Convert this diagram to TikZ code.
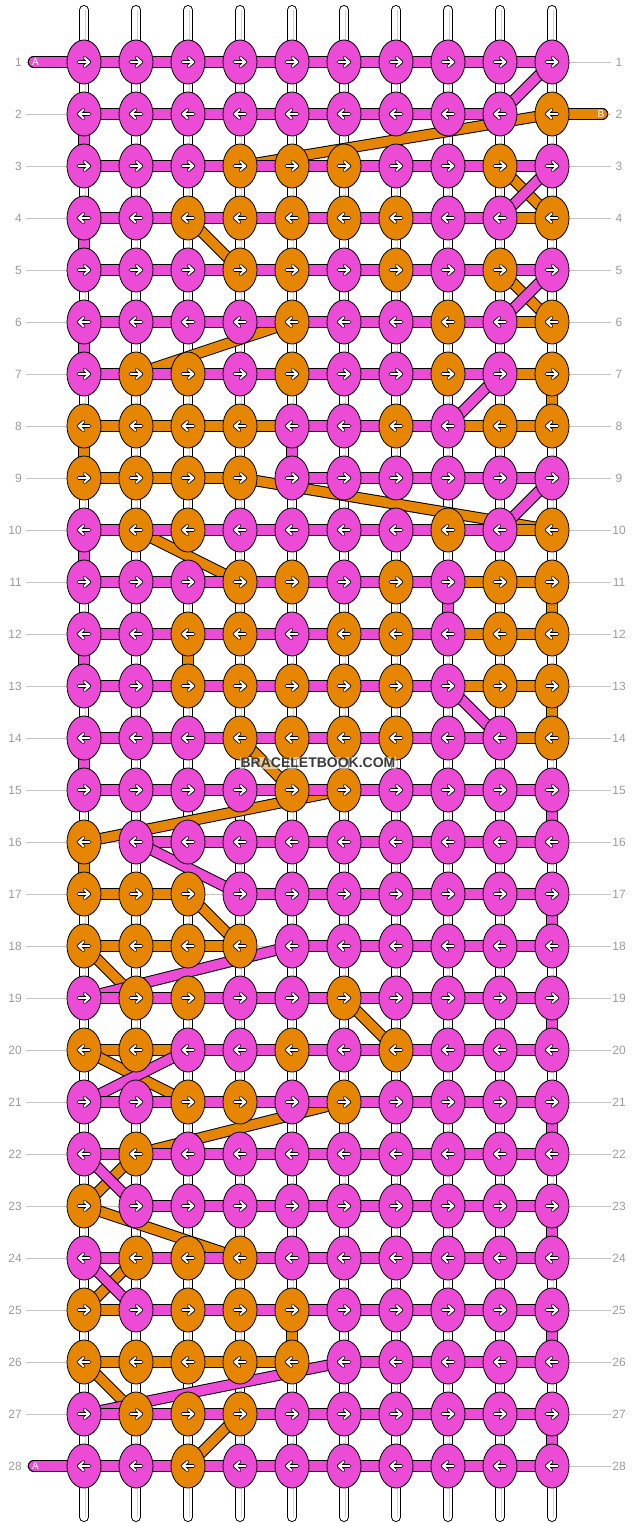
\documentclass[tikz,border=0pt]{standalone}
\usepackage{fontspec}
\setmainfont{Liberation Sans}
\usetikzlibrary{shapes.geometric}
\definecolor{cP}{HTML}{EC4BD6}
\definecolor{cO}{HTML}{E68600}
\definecolor{lblgray}{HTML}{9A9A9A}
\definecolor{linegray}{HTML}{C4C4C4}
\definecolor{wmgray}{HTML}{3A3A3A}
\pgfdeclarelayer{gl}
\pgfdeclarelayer{ws}
\pgfdeclarelayer{lb}
\pgfdeclarelayer{la}
\pgfsetlayers{gl,ws,lb,la,main}
\tikzset{
  knot/.style={ellipse, draw=black, line width=0.8pt, minimum width=34pt, minimum height=44pt, inner sep=0pt},
  bandout/.style={line width=11.5pt, black},
  bandin/.style={line width=9.5pt},
  arrowout/.style={line width=3.6pt, black, line cap=round, line join=round},
  arrowin/.style={line width=1.9pt, white, line cap=round, line join=round},
  lbl/.style={text=lblgray, font=\fontsize{12}{14}\selectfont, inner sep=0pt},
  gline/.style={draw=linegray, line width=0.9pt},
  taillbl/.style={text=white, font=\fontsize{10}{12}\selectfont, inner sep=0pt},
}
\newcommand\strseg[3]{%
  \draw[bandout] (#2.center) -- (#3.center);
  \draw[bandin, #1] (#2.center) -- (#3.center);
}
\begin{document}
\begin{tikzpicture}[x=1pt,y=-1pt]
\useasboundingbox (0,0) rectangle (636,1528);
% white vertical strings
\begin{pgfonlayer}{ws}
\foreach \c in {1,...,10} {
  \pgfmathsetmacro\xx{84+52*(\c-1)}
  \coordinate (st\c) at (\xx,10);
  \coordinate (sb\c) at (\xx,1517);
  \draw[line width=10pt, black, line cap=round] (st\c) -- (sb\c);
  \draw[line width=8pt, white, line cap=round] (st\c) -- (sb\c);
  \draw[line width=0.8pt, black!18] ([xshift=1.5pt]st\c) -- ([xshift=1.5pt]sb\c);
}
\end{pgfonlayer}
% knots, arrows, labels
\foreach \r/\row in {
1/{P,P,P,P,P,P,P,P,P,P},
2/{P,P,P,P,P,P,P,P,P,O},
3/{P,P,P,O,O,O,P,P,O,P},
4/{P,P,O,O,O,O,O,P,P,O},
5/{P,P,P,O,O,P,O,P,O,P},
6/{P,P,P,P,O,P,P,O,P,O},
7/{P,O,O,P,O,P,P,O,P,O},
8/{O,O,O,O,P,P,O,P,O,O},
9/{O,O,O,O,P,P,P,P,P,P},
10/{P,O,O,P,P,P,P,O,P,O},
11/{P,P,P,O,O,P,O,P,O,O},
12/{P,P,O,O,P,O,O,P,O,O},
13/{P,P,O,O,O,O,O,P,O,O},
14/{P,P,P,O,O,O,O,P,P,O},
15/{P,P,P,P,O,O,P,P,P,P},
16/{O,P,P,P,P,P,P,P,P,P},
17/{O,O,O,P,P,P,P,P,P,P},
18/{O,O,O,O,P,P,P,P,P,P},
19/{P,O,O,P,P,O,P,P,P,P},
20/{O,O,P,P,O,P,O,P,P,P},
21/{P,P,O,O,P,O,P,P,P,P},
22/{P,O,P,P,P,P,P,P,P,P},
23/{O,P,P,P,P,P,P,P,P,P},
24/{P,O,O,O,P,P,P,P,P,P},
25/{O,P,O,O,O,P,P,P,P,P},
26/{O,O,O,O,O,P,P,P,P,P},
27/{P,O,O,O,P,P,P,P,P,P},
28/{P,P,O,P,P,P,P,P,P,P}} {
  \pgfmathsetmacro\yy{62+52*(\r-1)}
  \pgfmathsetmacro\dir{ifthenelse(mod(\r,2)==1,1,-1)}
  \foreach \k [count=\c] in \row {
    \pgfmathsetmacro\xx{84+52*(\c-1)}
    \node[knot, fill=c\k] (k\r-\c) at (\xx,\yy) {};
    \begin{scope}[shift={(\xx,\yy)}, xscale=\dir]
      \draw[arrowout] (-5.6,0) -- (5.4,0) (0.6,-4.1) -- (5.4,0) -- (0.6,4.1);
      \draw[arrowin] (-5.6,0) -- (5.4,0) (0.6,-4.1) -- (5.4,0) -- (0.6,4.1);
    \end{scope}
  }
  \node[lbl, anchor=east] (ll\r) at (22,\yy) {\r};
  \node[lbl] (lr\r) at (619,\yy) {\r};
  \coordinate (gl\r) at (26,\yy);
  \coordinate (gr\r) at (611,\yy);
  \begin{pgfonlayer}{gl}
    \draw[gline] (gl\r) -- (gr\r);
  \end{pgfonlayer}
}
% tails
\coordinate (tA1) at (33.5,62);
\coordinate (tA28) at (33.5,1466);
\coordinate (tB) at (602.5,114);
\begin{pgfonlayer}{la}
  \draw[bandout, line cap=round] (tA1) -- (k1-1.center);
  \draw[bandin, cP, line cap=round] (tA1) -- (k1-1.center);
  \draw[bandout, line cap=round] (tA28) -- (k28-1.center);
  \draw[bandin, cP, line cap=round] (tA28) -- (k28-1.center);
\end{pgfonlayer}
\begin{pgfonlayer}{lb}
  \draw[bandout, line cap=round] (tB) -- (k2-10.center);
  \draw[bandin, cO, line cap=round] (tB) -- (k2-10.center);
\end{pgfonlayer}
\node[taillbl] (lA1) at (35.5,62) {A};
\node[taillbl] (lA28) at (35.5,1466) {A};
\node[taillbl] (lB) at (601,114) {B};
% string A
\begin{pgfonlayer}{la}
\foreach \nxt [remember=\nxt as \prv (initially k1-1)] in {
k1-1,k1-2,k1-3,k1-4,k1-5,k1-6,k1-7,k1-8,k1-9,k1-10,
k2-9,k2-8,k2-7,k2-6,k2-5,k2-4,k2-3,k2-2,k2-1,
k3-1,k3-2,k3-3,k3-7,k3-8,k3-10,
k4-9,k4-8,k4-2,k4-1,
k5-1,k5-2,k5-3,k5-6,k5-8,k5-10,
k6-9,k6-7,k6-6,k6-4,k6-3,k6-2,k6-1,
k7-1,k7-4,k7-6,k7-7,k7-9,
k8-8,k8-6,k8-5,
k9-5,k9-6,k9-7,k9-8,k9-9,k9-10,
k10-9,k10-7,k10-6,k10-5,k10-4,k10-1,
k11-1,k11-2,k11-3,k11-6,k11-8,
k12-8,k12-5,k12-2,k12-1,
k13-1,k13-2,k13-8,
k14-9,k14-8,k14-3,k14-2,k14-1,
k15-1,k15-2,k15-3,k15-4,k15-7,k15-8,k15-9,k15-10,
k16-10,k16-9,k16-8,k16-7,k16-6,k16-5,k16-4,k16-3,k16-2,
k17-4,k17-5,k17-6,k17-7,k17-8,k17-9,k17-10,
k18-10,k18-9,k18-8,k18-7,k18-6,k18-5,
k19-1,k19-4,k19-5,k19-7,k19-8,k19-9,k19-10,
k20-10,k20-9,k20-8,k20-6,k20-4,k20-3,
k21-1,k21-2,k21-5,k21-7,k21-8,k21-9,k21-10,
k22-10,k22-9,k22-8,k22-7,k22-6,k22-5,k22-4,k22-3,k22-1,
k23-2,k23-3,k23-4,k23-5,k23-6,k23-7,k23-8,k23-9,k23-10,
k24-10,k24-9,k24-8,k24-7,k24-6,k24-5,k24-1,
k25-2,k25-6,k25-7,k25-8,k25-9,k25-10,
k26-10,k26-9,k26-8,k26-7,k26-6,
k27-1,k27-5,k27-6,k27-7,k27-8,k27-9,k27-10,
k28-10,k28-9,k28-8,k28-7,k28-6,k28-5,k28-4,k28-2,k28-1} {
  \strseg{cP}{\prv}{\nxt}
}
\end{pgfonlayer}
% string B
\begin{pgfonlayer}{lb}
\foreach \nxt [remember=\nxt as \prv (initially k2-10)] in {
k2-10,
k3-4,k3-5,k3-6,k3-9,
k4-10,k4-7,k4-6,k4-5,k4-4,k4-3,
k5-4,k5-5,k5-7,k5-9,
k6-10,k6-8,k6-5,
k7-2,k7-3,k7-5,k7-8,k7-10,
k8-10,k8-9,k8-7,k8-4,k8-3,k8-2,k8-1,
k9-1,k9-2,k9-3,k9-4,
k10-10,k10-8,k10-3,k10-2,
k11-4,k11-5,k11-7,k11-9,k11-10,
k12-10,k12-9,k12-7,k12-6,k12-4,k12-3,
k13-3,k13-4,k13-5,k13-6,k13-7,k13-9,k13-10,
k14-10,k14-7,k14-6,k14-5,k14-4,
k15-5,k15-6,
k16-1,
k17-1,k17-2,k17-3,
k18-4,k18-3,k18-2,k18-1,
k19-2,k19-3,k19-6,
k20-7,k20-5,k20-2,k20-1,
k21-3,k21-4,k21-6,
k22-2,
k23-1,
k24-4,k24-3,k24-2,
k25-1,k25-3,k25-4,k25-5,
k26-5,k26-4,k26-3,k26-2,k26-1,
k27-2,k27-3,k27-4,
k28-3} {
  \strseg{cO}{\prv}{\nxt}
}
\end{pgfonlayer}
% watermark
\node[font=\bfseries\fontsize{14}{16}\selectfont, text=wmgray, fill=white, fill opacity=0.55, text opacity=1, inner sep=1pt] (wm) at (318,763) {BRACELETBOOK.COM};
\end{tikzpicture}
\end{document}
